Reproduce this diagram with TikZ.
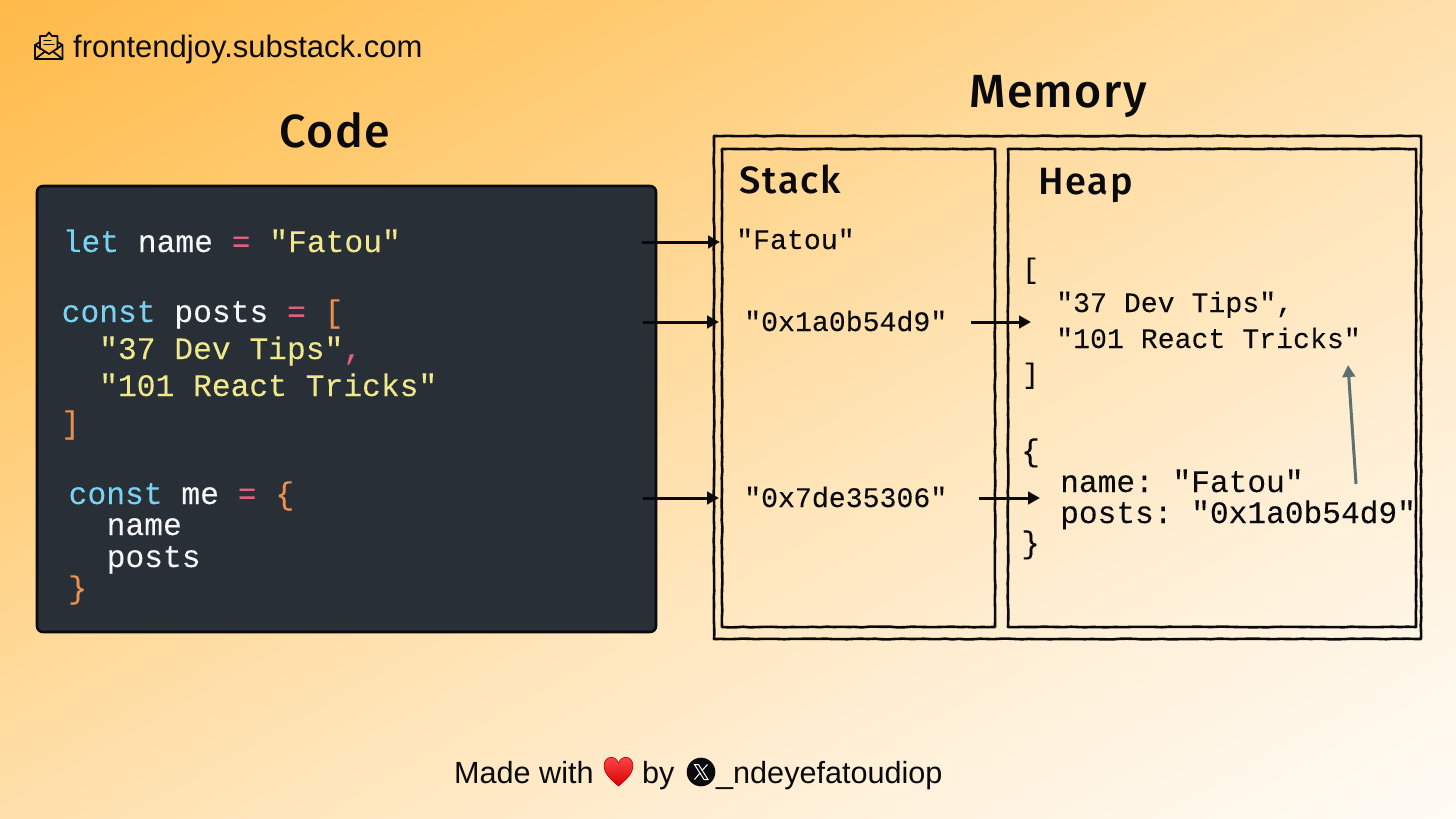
\documentclass[tikz,border=0pt]{standalone}
\usepackage{fontspec}
\setmainfont{Liberation Sans}
\setmonofont[FakeBold=0.06]{Liberation Mono}
\newfontfamily\headfont[UprightFont=* Medium,LetterSpace=3]{Fira Sans}
\newfontfamily\subheadfont[UprightFont=* Medium,LetterSpace=5]{Fira Sans}
\usetikzlibrary{arrows.meta,decorations.pathmorphing}
\definecolor{inkc}{HTML}{0A0A0C}
\definecolor{codebg}{HTML}{282F37}
\definecolor{kwc}{HTML}{78D2F0}
\definecolor{opc}{HTML}{E0607E}
\definecolor{strc}{HTML}{EFE88C}
\definecolor{brc}{HTML}{EE8F4E}
\definecolor{wht}{HTML}{F5F7F8}
\definecolor{grayarrow}{HTML}{5F7070}
\definecolor{bga}{RGB}{255,186,74}
\definecolor{bgb}{RGB}{255,201,108}
\definecolor{bgc}{RGB}{255,224,171}
\definecolor{bgd}{RGB}{255,239,214}
\definecolor{bge}{RGB}{255,252,246}
\pgfdeclarehorizontalshading{bgshade}{100bp}{
  color(0bp)=(bga);
  color(20bp)=(bgb);
  color(50bp)=(bgc);
  color(75bp)=(bgd);
  color(100bp)=(bge)}
\tikzset{
  x=1pt,y=-1pt,
  rough/.style={draw=inkc,line width=2.6pt,line join=round,decorate,
     decoration={random steps,segment length=7pt,amplitude=0.35pt},inner sep=0pt,outer sep=0pt},
  mono/.style={anchor=base west,inner sep=0pt,font=\ttfamily\fontsize{28.2}{30}\selectfont,text=inkc},
  codetxt/.style={anchor=base west,inner sep=0pt,font=\ttfamily\fontsize{31.3}{34}\selectfont,text=wht},
  mono big/.style={anchor=base west,inner sep=0pt,font=\ttfamily\fontsize{31.2}{34}\selectfont,text=inkc},
  head/.style={anchor=base,inner sep=0pt,font=\headfont\fontsize{46.5}{50}\selectfont,text=inkc},
  subhead/.style={anchor=base west,inner sep=0pt,font=\subheadfont\fontsize{38}{40}\selectfont,text=inkc},
  plain/.style={anchor=base west,inner sep=0pt,font=\fontsize{30.6}{34}\selectfont,text=inkc},
  arr/.style={-{Triangle[length=12pt,width=12.5pt]},line width=3pt,draw=inkc},
}
\newcommand{\kw}[1]{\textcolor{kwc}{#1}}
\newcommand{\op}[1]{\textcolor{opc}{#1}}
\newcommand{\str}[1]{\textcolor{strc}{#1}}
\newcommand{\br}[1]{\textcolor{brc}{#1}}
\begin{document}
\begin{tikzpicture}
\useasboundingbox (0,0) rectangle (1456,819);
\begin{scope}
  \clip (0,0) rectangle (1456,819);
  \pgftransformreset
  \pgftransformcm{14.56}{-8.19}{14.56}{8.19}{\pgfpoint{728pt}{-409.5pt}}
  \pgflowlevelsynccm
  \pgfuseshading{bgshade}
\end{scope}
\pgfmathsetseed{7}

% titles
\node[plain,font=\fontsize{31}{34}\selectfont] (site) at (73,57) {frontendjoy.substack.com};
\node[head] (codetitle) at (335,147) {Code};
\node[head] (memtitle) at (1058,107) {Memory};

% envelope icon
\begin{scope}[draw=inkc,line width=1.8pt,line join=round,line cap=round]
  \draw (40,42) -- (35,45) -- (35,59) -- (62.5,59) -- (62.5,45) -- (57.5,42);
  \draw (40,49) -- (40,36) -- (46,36) -- (49,32.5) -- (52,36) -- (57.5,36) -- (57.5,49);
  \draw (35,45) -- (49,54) -- (62.5,45);
  \draw (35,59) -- (45,51.5);
  \draw (62.5,59) -- (53,51.5);
  \draw[line width=1.3pt] (44,40.5) -- (51,40.5);
  \draw[line width=1.3pt] (44,44.5) -- (54,44.5);
\end{scope}

% boxes
\node[draw=inkc,line width=2.6pt,fill=codebg,rounded corners=6pt,inner sep=0pt,outer sep=0pt,minimum width=619pt,minimum height=446pt,anchor=north west] (codebox) at (37,186) {};
\node[rough,minimum width=707pt,minimum height=503pt,anchor=north west] (membox) at (714,136) {};
\node[rough,minimum width=273pt,minimum height=478pt,anchor=north west] (stackbox) at (722,149) {};
\node[rough,minimum width=408pt,minimum height=478pt,anchor=north west] (heapbox) at (1008,149) {};
\node[subhead] (stacktitle) at (739,193) {Stack};
\node[subhead] (heaptitle) at (1038,194) {Heap};

% code
\node[codetxt] (l1) at (62.5,252) {\kw{let} name \op{=} \str{"Fatou"}};
\node[codetxt] (l2) at (61.5,322) {\kw{const} posts \op{=} \br{[}};
\node[codetxt] (l3) at (99,359) {\str{"37 Dev Tips"}\op{,}};
\node[codetxt] (l4) at (99,396) {\str{"101 React Tricks"}};
\node[codetxt] (l5) at (61,433) {\br{]}};
\node[codetxt] (l6) at (68.5,504) {\kw{const} me \op{=} \br{\{}};
\node[codetxt] (l7) at (106.5,535) {name};
\node[codetxt] (l8) at (106.5,567) {posts};
\node[codetxt] (l9) at (68,598) {\br{\}}};

% stack values
\node[mono] (s1) at (736,249) {"Fatou"};
\node[mono] (s2) at (744,331) {"0x1a0b54d9"};
\node[mono] (s3) at (744,507) {"0x7de35306"};

% heap values
\node[mono] (h1) at (1022,278) {[};
\node[mono] (h2) at (1056,312) {"37 Dev Tips",};
\node[mono] (h3) at (1056,348) {"101 React Tricks"};
\node[mono] (h4) at (1022,383) {]};
\node[mono big] (h5) at (1021,461) {\{};
\node[mono big] (h6) at (1060,492) {name: "Fatou"};
\node[mono big] (h7) at (1060,523) {posts: "0x1a0b54d9"};
\node[mono big] (h8) at (1021,553) {\}};

% connectors
\coordinate (a1s) at (642,242); \coordinate (a1e) at (720,242);
\coordinate (a2s) at (643,322); \coordinate (a2e) at (719,322);
\coordinate (a3s) at (643,498); \coordinate (a3e) at (719,498);
\coordinate (a4s) at (971,322); \coordinate (a4e) at (1031,322);
\coordinate (a5s) at (979,498); \coordinate (a5e) at (1040,498);
\coordinate (a6s) at (1356,484); \coordinate (a6e) at (1348,365);
\draw[arr] (a1s) -- (a1e);
\draw[arr] (a2s) -- (a2e);
\draw[arr] (a3s) -- (a3e);
\draw[arr] (a4s) -- (a4e);
\draw[arr] (a5s) -- (a5e);
\draw[arr,draw=grayarrow] (a6s) -- (a6e);

% footer
\node[plain] (f1) at (454,783) {Made with};
\node[plain] (f2) at (642,783) {by};
\node[plain] (f3) at (716,783) {\_ndeyefatoudiop};
% heart
\fill[top color=red!70!white,bottom color=red!85!black,draw=red!75!black,line width=.5pt]
  (618.5,786) .. controls (610,779) and (604,773) .. (604,766)
  .. controls (604,756) and (615,754) .. (618.5,763)
  .. controls (622,754) and (633,756) .. (633,766)
  .. controls (633,773) and (627,779) .. (618.5,786) -- cycle;
% X logo
\fill[inkc] (701,772) circle (14.3);
\begin{scope}[draw=white,line cap=butt]
  \draw[line width=1pt] (694.5,764.5) -- (698.5,764.5) -- (708,779.5) -- (704,779.5) -- cycle;
  \draw[line width=1pt] (707.5,764.5) -- (702,770.5);
  \draw[line width=1pt] (700,773) -- (694.5,779.5);
\end{scope}
\end{tikzpicture}
\end{document}
